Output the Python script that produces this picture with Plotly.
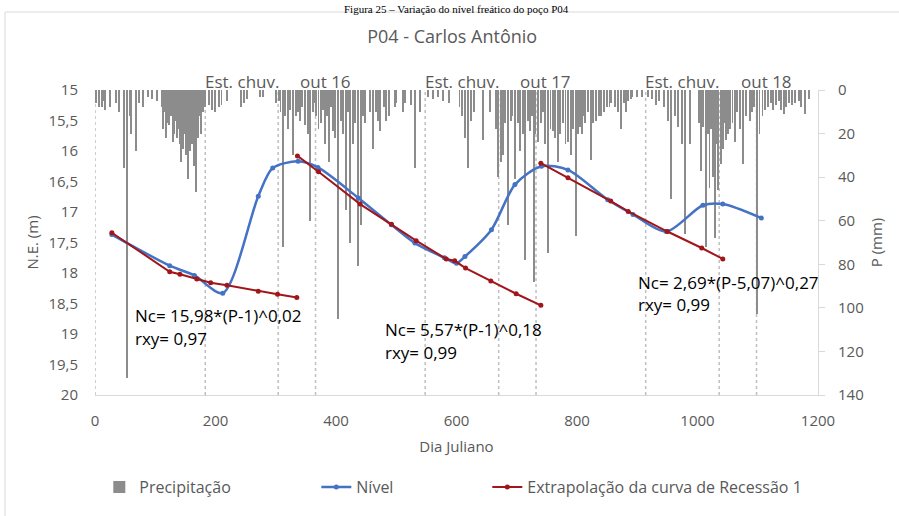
import plotly.graph_objects as go

# ---------------- data ----------------
# daily rainfall (Julian day, mm)
rain_day = [2, 7, 13, 25, 35, 40, 48, 53, 60, 68, 73, 95, 103, 111, 116, 121, 126, 129, 133, 136,
            139, 143, 146, 149, 154, 158, 161, 164, 168, 171, 174, 179,
            189, 194, 206, 219, 242, 247, 279, 305,
            312, 320, 329, 337, 340, 349, 357, 362, 367, 375, 382, 388, 395, 403, 408, 417, 423,
            428, 437, 441, 448, 461, 466, 473, 483, 498, 500, 515, 531, 539, 553, 561, 569,
            614, 619, 624, 644, 656, 669, 674, 677, 685, 690, 697, 705, 714, 722, 729, 735, 744,
            752, 760, 768, 777, 785, 790, 798, 805, 808, 813, 823, 832, 840, 850, 856, 863, 873, 885,
            892, 900, 908, 931, 951, 956, 968, 974, 979, 988, 1006, 1009, 1014, 1020, 1026, 1029,
            1034, 1039, 1042, 1047, 1054, 1062, 1075, 1087, 1099, 1103, 1112, 1117, 1130, 1139,
            1147, 1162, 1178,
            0, 11, 17, 58, 80, 88, 113, 118, 123, 131, 141, 151, 156, 166, 176, 183, 199, 210,
            252, 274, 300, 308, 316, 324, 333, 344, 353, 365, 371, 378, 385, 392, 399, 412, 420,
            432, 445, 456, 470, 479, 488, 511, 524, 578, 588,
            605, 609, 629, 666, 681, 693, 702, 710, 718, 725, 731, 740, 747, 756, 764, 772, 781,
            794, 802, 810, 818, 827, 836, 845, 854, 868, 878, 882, 889, 918, 925, 936, 944, 962,
            1002, 1017, 1023, 1032, 1044, 1050, 1058, 1066, 1070, 1080, 1090, 1094, 1108, 1122,
            1126, 1135, 1143, 1152, 1157, 1168, 1172, 1185]
rain_mm = [6, 8, 5, 8, 6, 10, 36, 132, 20, 28, 6, 4, 5, 8, 10, 15, 12, 24, 14, 22,
           18, 33, 27, 20, 41, 28, 25, 35, 47, 22, 12, 10,
           7, 9, 8, 5, 8, 6, 3, 5,
           72, 18, 30, 10, 14, 16, 60, 10, 12, 15, 25, 33, 19, 105, 14, 55, 70,
           25, 81, 62, 15, 27, 10, 19, 14, 8, 6, 6, 36, 10, 3, 4, 3,
           22, 36, 14, 23, 10, 40, 33, 30, 62, 14, 41, 28, 78, 19, 88, 24, 10,
           75, 19, 33, 15, 24, 30, 67, 17, 20, 15, 32, 14, 12, 8, 6, 8, 18, 5,
           3, 3, 3, 7, 14, 50, 17, 25, 66, 25, 37, 17, 72, 45, 40, 68,
           46, 34, 27, 23, 18, 24, 34, 14, 103, 20, 9, 8, 7, 9,
           8, 6, 11,
           5, 8, 9, 12, 8, 3, 18, 22, 16, 20, 25, 30, 18, 28, 20, 8, 10, 7,
           4, 3, 6, 10, 12, 9, 12, 8, 20, 6, 18, 9, 12, 8, 22, 20, 10,
           15, 12, 10, 14, 8, 12, 10, 7, 5, 6,
           8, 12, 10, 18, 15, 12, 15, 20, 14, 12, 20, 15, 25, 18, 22, 20, 25,
           18, 20, 12, 10, 15, 12, 10, 8, 10, 6, 10, 4, 3, 4, 5, 8, 12,
           15, 20, 18, 25, 15, 20, 15, 10, 18, 12, 10, 8, 12, 6,
           9, 5, 11, 6, 7, 5, 8, 4]

nivel_day = [28, 124, 165, 212, 271, 295, 337, 370, 437, 492, 531, 580, 600, 614, 658,
             697, 741, 785, 851, 893, 948, 1009, 1042, 1106]
nivel_ne = [17.37, 17.88, 18.04, 18.33, 16.74, 16.28, 16.17, 16.27, 16.77, 17.21, 17.51, 17.75,
            17.84, 17.73, 17.29, 16.55, 16.25, 16.31, 16.80, 17.04, 17.32, 16.89, 16.87, 17.10]

rec_day = [28, 124, 141, 169, 192, 219, 271, 303, 335, None,
           336, 371, 440, 492, 533, 583, 597, 615, 657, 699, 740, None,
           740, 785, 856, 885, 950, 1007, 1042]
rec_ne = [17.34, 17.98, 18.02, 18.10, 18.16, 18.20, 18.30, 18.35, 18.40, None,
          16.08, 16.34, 16.87, 17.20, 17.47, 17.77, 17.80, 17.92, 18.13, 18.34, 18.53, None,
          16.20, 16.44, 16.82, 16.99, 17.32, 17.59, 17.77]

marker_days = [0, 183, 304, 366, 548, 670, 732, 914, 1036, 1098]
season_text = ["Est. chuv.", "out 16", "Est. chuv.", "out 17", "Est. chuv.", "out 18"]
season_day = [244, 383, 609, 748, 975, 1114]

eq_text = ["Nc= 15,98*(P-1)^0,02", "rxy= 0,97",
           "Nc= 5,57*(P-1)^0,18", "rxy= 0,99",
           "Nc= 2,69*(P-5,07)^0,27", "rxy= 0,99"]
eq_day = [63, 63, 478, 478, 898, 898]
eq_ne = [18.69, 19.07, 18.92, 19.31, 18.16, 18.52]

ne_ticks = [15, 15.5, 16, 16.5, 17, 17.5, 18, 18.5, 19, 19.5, 20]
ne_labels = ["15", "15,5", "16", "16,5", "17", "17,5", "18", "18,5", "19", "19,5", "20"]
p_ticks = [0, 20, 40, 60, 80, 100, 120, 140]
x_ticks = [0, 200, 400, 600, 800, 1000, 1200]

# ---------------- figure ----------------
FONT = "Open Sans"
GRAY = "#595959"
fig = go.Figure()

fig.add_trace(go.Bar(x=rain_day, y=rain_mm, width=1.4, name="Precipitação",
                     marker=dict(color="#8c8c8c", line=dict(width=0)),
                     yaxis="y", legend="legend", showlegend=True))
fig.add_trace(go.Scatter(x=nivel_day, y=nivel_ne, name="Nível", mode="lines+markers",
                         line=dict(color="#4472c4", width=2.5, shape="spline", smoothing=0.8),
                         marker=dict(size=5, color="#4472c4"),
                         yaxis="y2", legend="legend2", showlegend=True))
fig.add_trace(go.Scatter(x=rec_day, y=rec_ne, name="Extrapolação da curva de Recessão 1",
                         mode="lines+markers", connectgaps=False,
                         line=dict(color="#a0161b", width=2),
                         marker=dict(size=5, color="#a0161b"),
                         yaxis="y2", legend="legend3", showlegend=True))

shapes = []
for d in marker_days:
    shapes.append(dict(type="line", xref="x", yref="paper", x0=d, x1=d, y0=0, y1=1,
                       line=dict(color="#bfbfbf", width=1.5, dash="dot"), layer="below"))
# chart frame
shapes.append(dict(type="rect", xref="paper", yref="paper", x0=-0.1245, x1=1.13,
                   y0=-0.45, y1=1.2557, line=dict(color="#d9d9d9", width=1),
                   fillcolor="rgba(0,0,0,0)", layer="above"))

annotations = []
for t, d in zip(season_text, season_day):
    annotations.append(dict(text=t, x=d, xref="x", y=1, yref="paper", yanchor="middle",
                            xanchor="center", yshift=9, showarrow=False,
                            font=dict(family=FONT, size=17, color=GRAY)))
for t, d, v in zip(eq_text, eq_day, eq_ne):
    annotations.append(dict(text=t, x=d, xref="x", y=v, yref="y2", xanchor="left",
                            yanchor="middle", showarrow=False,
                            font=dict(family=FONT, size=17, color="#000000")))
# caption above the chart frame
annotations.append(dict(text="Figura 25 – Variação do nível freático do poço P04",
                        x=0.5, xref="paper", y=1, yref="paper", xanchor="center",
                        yanchor="top", yshift=89, showarrow=False,
                        font=dict(family="Liberation Serif", size=11, color="#000000")))

LEG_Y = (395 - 487) / 305
fig.update_layout(
    width=899, height=516,
    margin=dict(l=95, r=81, t=90, b=121),
    paper_bgcolor="white", plot_bgcolor="white",
    showlegend=True,
    font=dict(family=FONT, size=15, color=GRAY),
    title=dict(text="P04 - Carlos Antônio", x=0.503, xanchor="center", y=1 - 37 / 516,
               yanchor="middle", font=dict(family=FONT, size=18, color=GRAY)),
    bargap=0,
    xaxis=dict(range=[0, 1200], tickvals=x_ticks, showgrid=False, zeroline=False,
               showline=True, linecolor="#d9d9d9", linewidth=1, ticks="",
               ticklabelstandoff=12,
               title=dict(text="Dia Juliano", standoff=12, font=dict(size=15, color=GRAY))),
    yaxis=dict(range=[140, 0], side="right", tickvals=p_ticks, showgrid=False, zeroline=False,
               showline=True, linecolor="#d9d9d9", linewidth=1, ticks="outside", ticklen=6,
               tickcolor="#d9d9d9", ticklabelstandoff=10,
               title=dict(text="P (mm)", standoff=8, font=dict(size=15, color=GRAY))),
    yaxis2=dict(range=[20, 15], overlaying="y", side="left", tickvals=ne_ticks,
                ticktext=ne_labels, showgrid=False, zeroline=False, showline=False,
                ticks="", ticklabelstandoff=16,
                title=dict(text="N.E. (m)", standoff=6, font=dict(size=15, color=GRAY))),
    legend=dict(orientation="h", x=(121 - 95) / 723 - 0.03, xanchor="left",
                y=LEG_Y, yanchor="middle", font=dict(size=16, color=GRAY),
                bgcolor="rgba(0,0,0,0)"),
    legend2=dict(orientation="h", x=(338 - 95) / 723 - 0.03, xanchor="left",
                 y=LEG_Y, yanchor="middle", font=dict(size=16, color=GRAY),
                 bgcolor="rgba(0,0,0,0)"),
    legend3=dict(orientation="h", x=(509 - 95) / 723 - 0.03, xanchor="left",
                 y=LEG_Y, yanchor="middle", font=dict(size=16, color=GRAY),
                 bgcolor="rgba(0,0,0,0)"),
    shapes=shapes,
    annotations=annotations,
)

fig.write_html("out.html")
